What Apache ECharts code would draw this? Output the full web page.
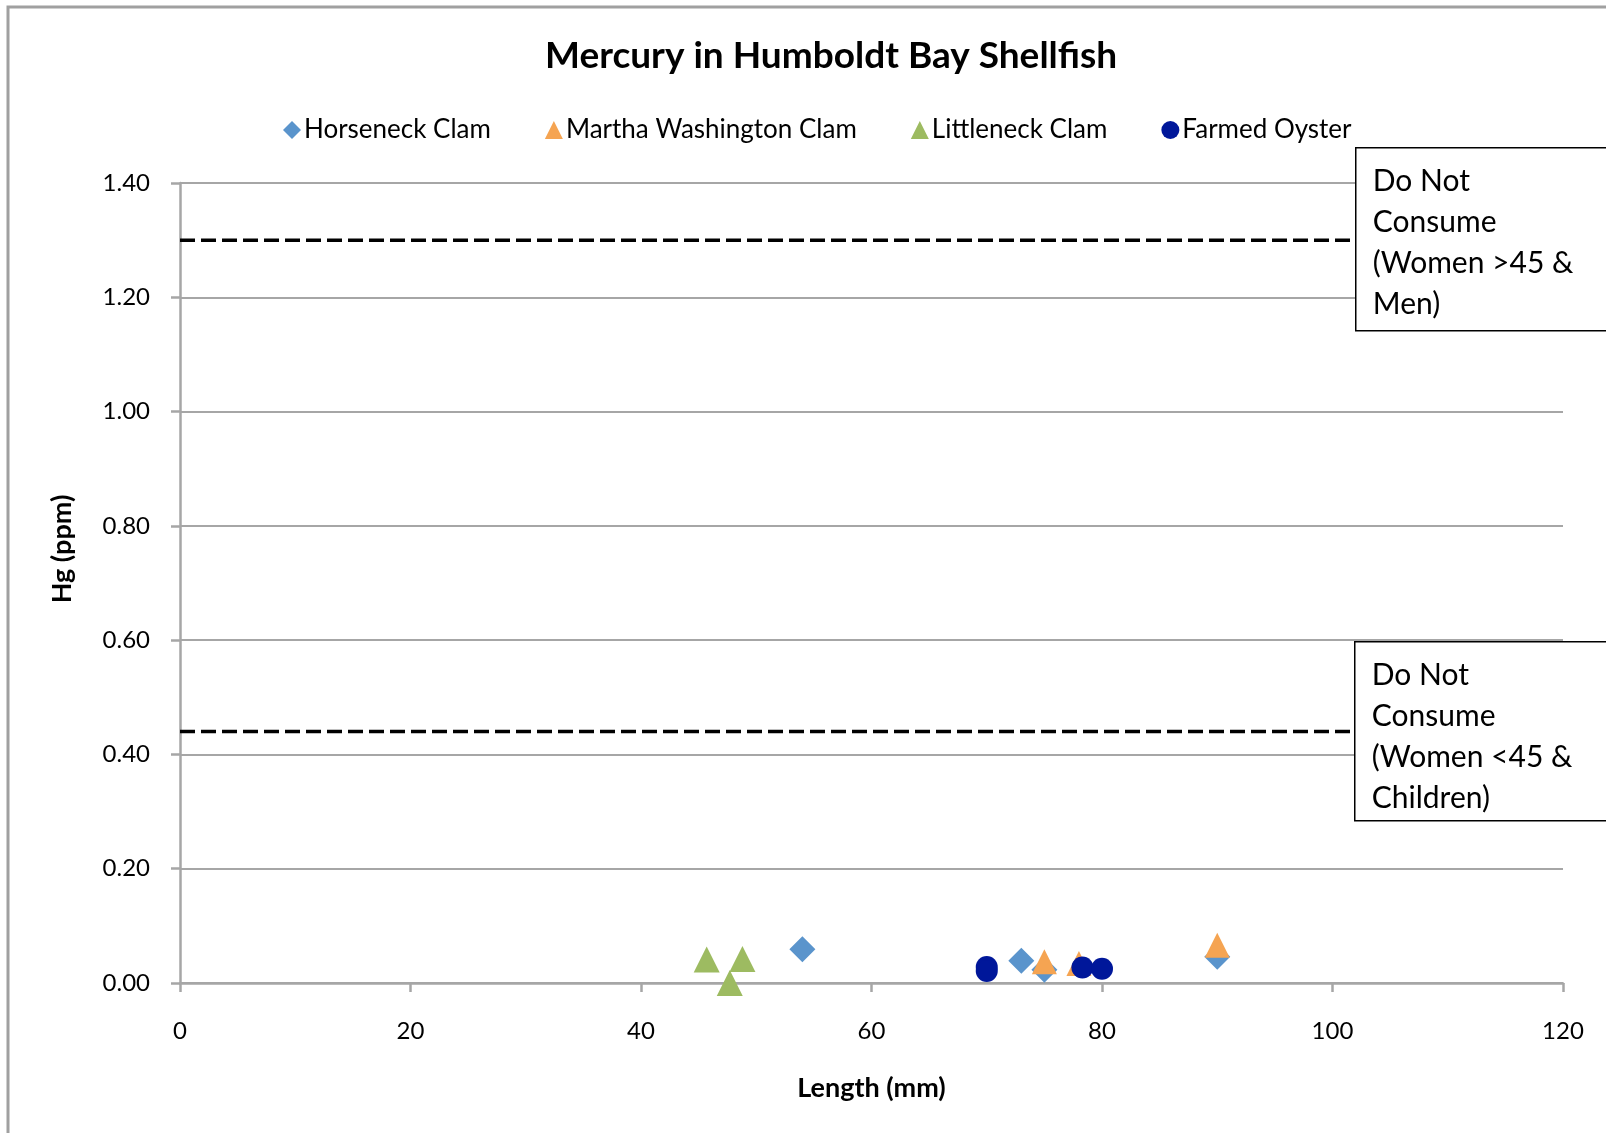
<!DOCTYPE html>
<html>
<head>
<meta charset="utf-8">
<script src="https://cdn.jsdelivr.net/npm/echarts@6/dist/echarts.min.js"></script>
<style>
  html, body { margin: 0; padding: 0; background: #fff; }
  #chart { width: 1606px; height: 1133px; }
</style>
</head>
<body>
<div id="chart"></div>
<script>
// values: [length mm, Hg ppm]
var horseneck = [[54.0, 0.059], [73.0, 0.039], [75.0, 0.023], [90.0, 0.046]];
var marthaWashington = [[75.0, 0.037], [78.0, 0.034], [90.0, 0.066]];
var littleneck = [[45.7, 0.041], [47.7, 0.0], [48.8, 0.042]];
var farmedOyster = [[70.0, 0.028], [70.0, 0.021], [78.3, 0.027], [80.0, 0.025]];
var limitMen = [[0, 1.3], [120, 1.3]];
var limitWomen = [[0, 0.44], [120, 0.44]];
var seriesNames = ['Horseneck Clam', 'Martha Washington Clam', 'Littleneck Clam', 'Farmed Oyster'];

var font = 'Lato, "Open Sans", sans-serif';
var dom = document.getElementById('chart');
var myChart = echarts.init(dom);

function noteBox(x, y, h, lines) {
    return {
        type: 'group',
        left: x,
        top: y,
        children: [
            {
                type: 'rect',
                z: 100,
                shape: { x: 0, y: 0, width: 300, height: h },
                style: { fill: '#fff', stroke: '#000', lineWidth: 1.5 }
            },
            {
                type: 'text',
                z: 101,
                x: 17,
                y: 13,
                style: {
                    text: lines.join('\n'),
                    font: '30px ' + font,
                    fill: '#000',
                    lineHeight: 41
                }
            }
        ]
    };
}

var option = {
    backgroundColor: '#fff',
    animation: false,
    title: {
        text: 'Mercury in Humboldt Bay Shellfish',
        left: 540,
        top: 33,
        textStyle: {
            fontFamily: font,
            fontSize: 37,
            fontWeight: 'bold',
            color: '#000'
        }
    },
    legend: {
        top: 112,
        left: 278,
        itemWidth: 18,
        itemHeight: 18,
        itemGap: 54,
        data: seriesNames,
        textStyle: {
            fontFamily: font,
            fontSize: 26,
            color: '#000',
            padding: [0, 0, 0, -2]
        }
    },
    grid: {
        left: 180,
        right: 43,
        top: 183,
        bottom: 150
    },
    xAxis: {
        type: 'value',
        min: 0,
        max: 120,
        interval: 20,
        name: 'Length (mm)',
        nameLocation: 'middle',
        nameGap: 92,
        nameTextStyle: { fontFamily: font, fontSize: 27, fontWeight: 'bold', color: '#000' },
        axisLine: { show: true, lineStyle: { color: '#a6a6a6', width: 2.5 } },
        axisTick: { show: true, length: 9, lineStyle: { color: '#a6a6a6', width: 2.5 } },
        axisLabel: { fontFamily: font, fontSize: 24, color: '#000', margin: 36 },
        splitLine: { show: false }
    },
    yAxis: {
        type: 'value',
        min: 0,
        max: 1.4,
        interval: 0.2,
        name: 'Hg (ppm)',
        nameLocation: 'middle',
        nameGap: 104,
        nameRotate: 90,
        nameTextStyle: {
            fontFamily: font, fontSize: 27, fontWeight: 'bold', color: '#000',
            padding: [0, 0, 0, 68]
        },
        axisLine: { show: true, lineStyle: { color: '#a6a6a6', width: 2.5 } },
        axisTick: { show: true, length: 9, lineStyle: { color: '#a6a6a6', width: 2.5 } },
        axisLabel: {
            fontFamily: font, fontSize: 24, color: '#000', margin: 30,
            formatter: function (v) { return v.toFixed(2); }
        },
        splitLine: { show: true, lineStyle: { color: '#a6a6a6', width: 2 } }
    },
    graphic: [
        {
            type: 'rect',
            z: 0,
            silent: true,
            shape: { x: 8, y: 7, width: 1700, height: 1200 },
            style: { fill: 'none', stroke: '#a0a0a0', lineWidth: 3 }
        },
        noteBox(1355, 147, 183, ['Do Not', 'Consume', '(Women >45 &', 'Men)']),
        noteBox(1354, 641, 179, ['Do Not', 'Consume', '(Women <45 &', 'Children)'])
    ],
    series: [
        {
            name: 'Men limit',
            type: 'line',
            data: limitMen,
            symbol: 'none',
            lineStyle: { color: '#000', width: 3.5, type: [15, 6] },
            z: 3
        },
        {
            name: 'Women limit',
            type: 'line',
            data: limitWomen,
            symbol: 'none',
            lineStyle: { color: '#000', width: 3.5, type: [15, 6] },
            z: 3
        },
        {
            name: seriesNames[0],
            type: 'scatter',
            data: horseneck,
            symbol: 'diamond',
            symbolSize: 26,
            itemStyle: { color: '#5a94cc', opacity: 1 },
            z: 4
        },
        {
            name: seriesNames[1],
            type: 'scatter',
            data: marthaWashington,
            symbol: 'triangle',
            symbolSize: 25,
            itemStyle: { color: '#f5a452', opacity: 1 },
            z: 5
        },
        {
            name: seriesNames[2],
            type: 'scatter',
            data: littleneck,
            symbol: 'triangle',
            symbolSize: 26,
            itemStyle: { color: '#9dbb61', opacity: 1 },
            z: 6
        },
        {
            name: seriesNames[3],
            type: 'scatter',
            data: farmedOyster,
            symbol: 'circle',
            symbolSize: 22,
            itemStyle: { color: '#00179a', opacity: 1 },
            z: 7
        }
    ]
};
myChart.setOption(option, true);
</script>
</body>
</html>
